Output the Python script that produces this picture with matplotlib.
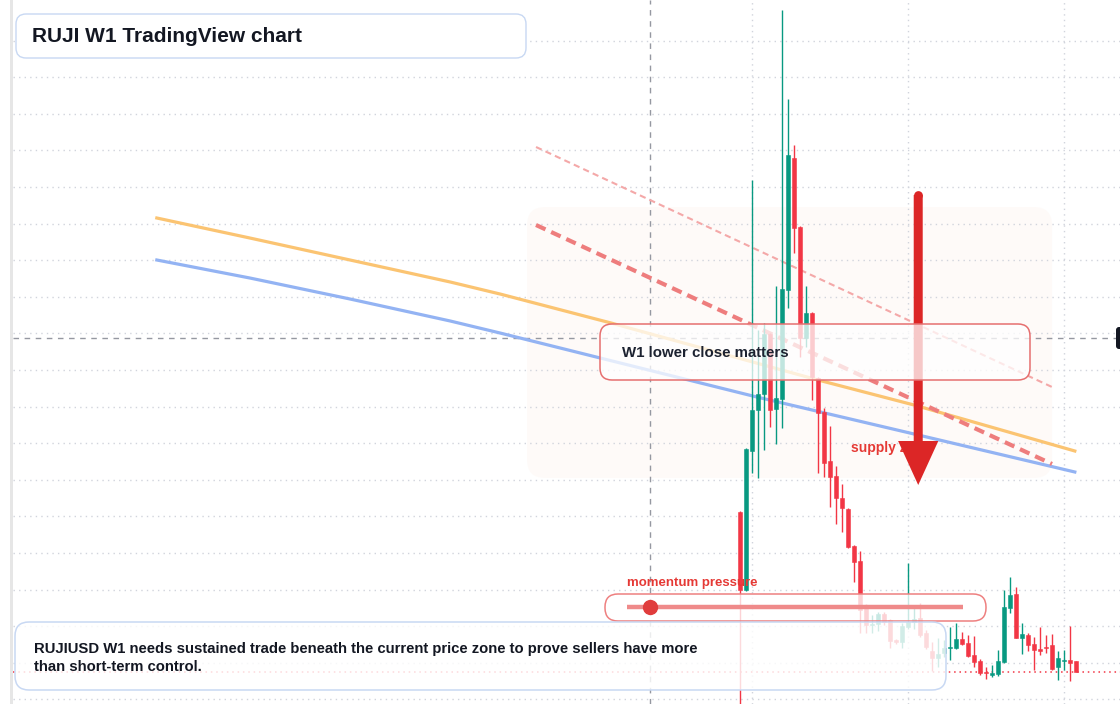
import matplotlib
matplotlib.use("Agg")
import matplotlib.pyplot as plt
import numpy as np
from matplotlib.patches import FancyBboxPatch, FancyArrow, Rectangle

plt.rcParams['font.family'] = ['Liberation Sans', 'DejaVu Sans']

# weekly RUJIUSD candles (week 0 = first candle on the chart)
opens  = [.192, .114, .253, .294, .310, .370, .295, .305, .414, .546,
          .477, .366, .391, .326, .292, .243, .228, .206, .195, .158,
          .143, .096, .079, .080, .090, .084, .064, .062, .077, .082,
          .086, .071, .053, .046, .051, .056, .056, .065, .061, .049,
          .043, .032, .029, .030, .042, .096, .110, .066, .069, .060,
          .055, .057, .059, .037, .043, .044, .043]
highs  = [.193, .256, .524, .374, .381, .371, .418, .694, .605, .559,
          .478, .418, .392, .327, .296, .278, .238, .220, .196, .159,
          .153, .100, .089, .092, .092, .085, .065, .081, .141, .099,
          .101, .074, .062, .066, .064, .077, .081, .072, .069, .068,
          .045, .037, .039, .054, .114, .127, .117, .081, .071, .067,
          .077, .069, .070, .053, .054, .078, .043]
lows   = [-.010, .113, .231, .226, .254, .277, .260, .276, .396, .451,
          .347, .357, .304, .231, .227, .197, .180, .172, .156, .122,
          .071, .071, .071, .073, .079, .056, .060, .056, .075, .075,
          .067, .055, .033, .037, .047, .044, .055, .059, .047, .037,
          .029, .025, .027, .028, .041, .091, .066, .050, .053, .034,
          .049, .051, .034, .024, .034, .023, .032]
closes = [.114, .255, .294, .310, .370, .294, .306, .415, .549, .476,
          .366, .391, .327, .291, .241, .227, .206, .196, .157, .142,
          .094, .079, .080, .090, .082, .063, .062, .078, .082, .085,
          .069, .057, .046, .050, .056, .057, .065, .060, .048, .042,
          .031, .031, .031, .043, .097, .109, .066, .070, .059, .054,
          .053, .056, .035, .046, .044, .041, .032]
weeks = np.arange(len(opens))

# moving averages read at a few weeks
fast_ma_weeks = [-97.2, -81.7, -65, -48.3, -40, -21.5, 13, 29, 55.8]
fast_ma = [.486, .466, .444, .422, .410, .381, .324, .299, .253]
slow_ma_weeks = [-97.2, -81.7, -65, -48.3, -40, -23.3, 2.8, 29, 55.8]
slow_ma = [.444, .426, .405, .383, .371, .346, .307, .270, .232]

# descending channel
channel_weeks = [-34, 52]
channel_upper = [.557, .317]
channel_lower = [.479, .240]

# supply zone
zone_weeks = [-35.5, 52]
zone_prices = [.226, .497]

crosshair_week = -15
crosshair_price = .366
grid_weeks = [2, 28, 54]
grid_prices = np.arange(0.0046, 0.70, 0.0366)

arrow_week = 29.7
arrow_top = .509
arrow_tip = .219

green = '#089981'
red = '#f23645'

fig = plt.figure(figsize=(11.2, 7.04), dpi=100)
ax = fig.add_axes([13 / 1120, 0, 1 - 13 / 1120, 1], zorder=1)
ax.set_xlim(-121.17, 63.33)
ax.set_ylim(0, 0.704)
ax.axis('off')

# zone
zone = FancyBboxPatch((zone_weeks[0], zone_prices[0]), zone_weeks[1] - zone_weeks[0],
                      zone_prices[1] - zone_prices[0],
                      boxstyle='round,pad=0,rounding_size=3', mutation_aspect=0.006,
                      fc='#fdf4ef', ec='none', alpha=0.4, zorder=0)
ax.add_patch(zone)

# grid
for p in grid_prices:
    ax.axhline(p, color='#d1d4dc', ls=(0, (1, 3)), lw=1, zorder=1)
for w in grid_weeks:
    ax.axvline(w, color='#d1d4dc', ls=(0, (1, 3)), lw=1, zorder=1)
ax.axvline(crosshair_week, color='#9598a1', ls=(0, (4, 4)), lw=1, zorder=1)
ax.axhline(crosshair_price, color='#9598a1', ls=(0, (4, 4)), lw=1, zorder=1)

# MAs and channel
ax.plot(fast_ma_weeks, fast_ma, color='#fbc472', lw=2.3, zorder=3)
ax.plot(slow_ma_weeks, slow_ma, color='#93b3f3', lw=2.3, zorder=3)
ax.plot(channel_weeks, channel_upper, color='#f4a8a8', lw=1.5, ls=(0, (3, 2)), zorder=3)
ax.plot(channel_weeks, channel_lower, color='#ee7d7d', lw=3, ls=(0, (2.5, 1.5)), zorder=3)

# candles
o = np.array(opens)
c = np.array(closes)
cols = [green if cc >= oo else red for oo, cc in zip(o, c)]
ax.vlines(weeks, lows, highs, colors=cols, lw=1, zorder=4)
body = np.maximum(np.abs(c - o), 0.0015)
ax.bar(weeks, body, bottom=np.minimum(o, c), width=0.8, color=cols,
       edgecolor=cols, lw=0.4, zorder=4)

# last price line
ax.axhline(closes[-1], color=red, ls=(0, (1, 2.5)), lw=1.1, zorder=3)

ax.text(18.5, .256, 'supply zone', color='#e53935', fontsize=10, fontweight='bold',
        va='center', zorder=5)
ax.add_patch(FancyArrow(arrow_week, arrow_top, 0, arrow_tip - arrow_top, width=1.5,
                        head_width=6.7, head_length=0.044, length_includes_head=True,
                        fc='#dc2626', ec='none', zorder=6))
ax.plot(arrow_week, arrow_top, 'o', ms=6.3, color='#dc2626', mec='none', zorder=6)

# overlay in pixels
ov = fig.add_axes([0, 0, 1, 1], zorder=2)
ov.set_xlim(0, 1120)
ov.set_ylim(704, 0)
ov.axis('off')
ov.patch.set_alpha(0)

ov.add_patch(Rectangle((10, 0), 3, 704, fc='#e6e6e6', ec='none'))
ov.add_patch(FancyBboxPatch((1116, 327), 10, 22, boxstyle='round,pad=0,rounding_size=3',
                            fc='#131722', ec='none'))

ov.add_patch(FancyBboxPatch((16, 14), 510, 44, boxstyle='round,pad=0,rounding_size=10',
                            fc='white', ec='#c8d8f3', lw=1))
ov.text(32, 36, 'RUJI W1 TradingView chart', fontsize=15, fontweight='bold',
        color='#131722', va='center')

ov.add_patch(FancyBboxPatch((600, 324), 430, 56, boxstyle='round,pad=0,rounding_size=12',
                            fc=(1, 1, 1, 0.75), ec='#e66f6f', lw=1.1))
ov.text(622, 353, 'W1 lower close matters', fontsize=10.8, fontweight='bold',
        color='#1c2230', va='center')

ov.add_patch(FancyBboxPatch((605, 594), 381, 27, boxstyle='round,pad=0,rounding_size=13',
                            fc=(1, 1, 1, 0.78), ec='#ee8080', lw=1.1))
ov.plot([627, 963], [607, 607], color='#ef8a8a', lw=3.2, solid_capstyle='butt')
ov.plot(650, 607, 'o', ms=10, color='#e03c3c')
ov.text(627, 583, 'momentum pressure', fontsize=9.5, fontweight='bold',
        color='#e53935', va='center')

ov.add_patch(FancyBboxPatch((15, 622), 931, 68, boxstyle='round,pad=0,rounding_size=14',
                            fc=(1, 1, 1, 0.82), ec='#c8d8f3', lw=1.1))
ov.text(34, 658, 'RUJIUSD W1 needs sustained trade beneath the current price zone to prove sellers have more\n'
        'than short-term control.', fontsize=10.7, fontweight='bold', color='#131722',
        va='center', linespacing=1.45)

fig.savefig('out.png', dpi=100)
